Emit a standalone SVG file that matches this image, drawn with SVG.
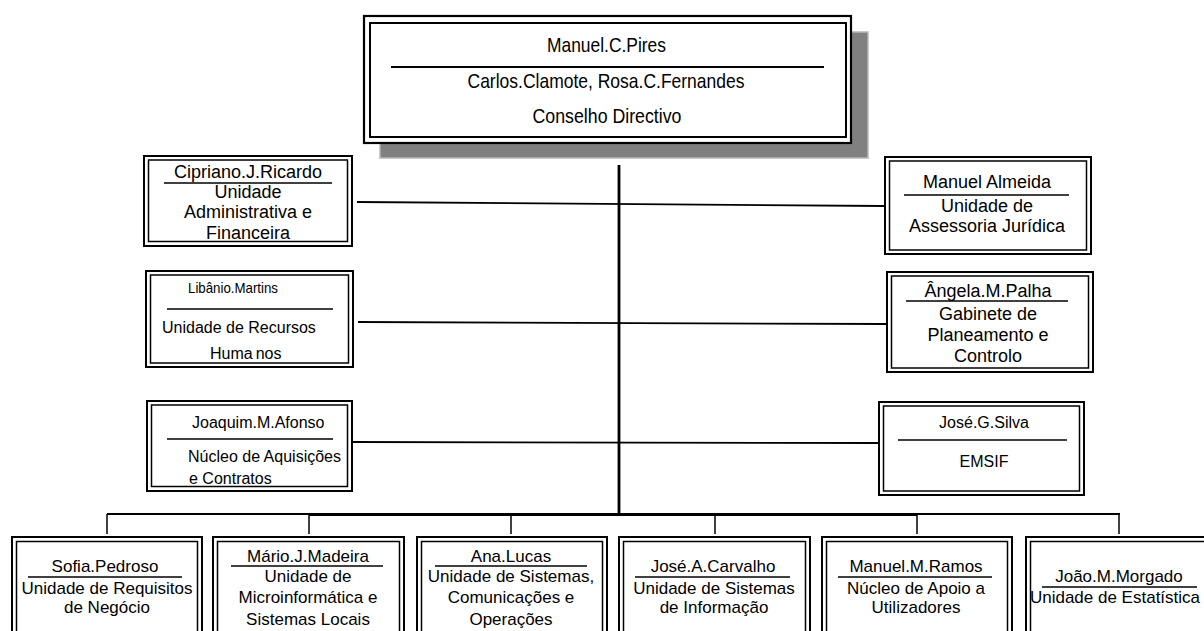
<svg xmlns="http://www.w3.org/2000/svg" width="1204" height="631" viewBox="0 0 1204 631">
<style>
.o{fill:#fff;stroke:#000;stroke-width:2}
.i{fill:none;stroke:#000;stroke-width:1.5}
.t{font-family:"Liberation Sans",Arial,sans-serif;fill:#000;text-anchor:middle}
.s{font-family:"Liberation Sans",Arial,sans-serif;fill:#000;text-anchor:start}
.n{font-family:"Liberation Sans",Arial,sans-serif;fill:#000;text-anchor:middle;font-size:21px}
.sep{stroke:#000;stroke-width:1.6}
.c{stroke:#000;stroke-width:1.5;fill:none}
</style>
<g id="connectors">
<line class="c" x1="619" y1="165" x2="619" y2="515" style="stroke-width:2.8"/>
<line class="c" x1="107" y1="514" x2="1120" y2="514" style="stroke-width:1.8"/>
<line class="c" x1="309" y1="515.5" x2="917" y2="515.5" style="stroke-width:1.2"/>
<line class="c" x1="107" y1="514" x2="107" y2="534"/>
<line class="c" x1="309" y1="514" x2="309" y2="534"/>
<line class="c" x1="511" y1="514" x2="511" y2="534"/>
<line class="c" x1="715" y1="514" x2="715" y2="534"/>
<line class="c" x1="917" y1="514" x2="917" y2="534"/>
<line class="c" x1="1119" y1="514" x2="1119" y2="534"/>
<line class="c" x1="357" y1="202" x2="884" y2="206" style="stroke-width:1.8"/>
<line class="c" x1="358" y1="322" x2="886" y2="324" style="stroke-width:1.8"/>
<line class="c" x1="352" y1="442" x2="878" y2="443" style="stroke-width:1.8"/>
</g>
<g id="conselho">
<rect x="380" y="32" width="488" height="126" fill="#808080" stroke="#b8b8b8" stroke-width="1.5"/>
<rect class="o" x="364" y="16" width="487" height="127" style="stroke-width:2.2"/>
<rect class="i" x="370" y="23" width="476" height="114" style="stroke-width:2"/>
<text class="n" x="606.5" y="52" textLength="119" lengthAdjust="spacingAndGlyphs">Manuel.C.Pires</text>
<line class="sep" x1="391" y1="67" x2="824" y2="67" style="stroke-width:1.8"/>
<text class="n" x="606" y="88" textLength="277" lengthAdjust="spacingAndGlyphs">Carlos.Clamote, Rosa.C.Fernandes</text>
<text class="n" x="607" y="123" textLength="149" lengthAdjust="spacingAndGlyphs">Conselho Directivo</text>
</g>
<g id="uaf">
<rect class="o" x="144" y="156" width="208" height="90"/>
<rect class="i" x="148.5" y="160" width="199" height="81.5"/>
<text class="t" x="248" y="178" font-size="18">Cipriano.J.Ricardo</text>
<line class="sep" x1="164" y1="183" x2="332" y2="183"/>
<text class="t" x="248" y="198" font-size="18">Unidade</text>
<text class="t" x="248" y="218" font-size="18">Administrativa e</text>
<text class="t" x="248" y="239" font-size="18">Financeira</text>
</g>
<g id="urh">
<rect class="o" x="146" y="271" width="207" height="96"/>
<rect class="i" x="150.5" y="275" width="198" height="88"/>
<text class="s" x="188" y="293" font-size="15" textLength="90" lengthAdjust="spacingAndGlyphs">Libânio.Martins</text>
<line class="sep" x1="167" y1="309" x2="333" y2="309"/>
<text class="s" x="162" y="333" font-size="16">Unidade de Recursos</text>
<text class="s" x="210" y="359" font-size="16"><tspan>Huma</tspan><tspan dx="3">nos</tspan></text>
</g>
<g id="nac">
<rect class="o" x="147" y="401" width="205" height="90"/>
<rect class="i" x="151.5" y="405" width="196" height="81.5"/>
<text class="s" x="192" y="428" font-size="16">Joaquim.M.Afonso</text>
<line class="sep" x1="167" y1="439" x2="333" y2="439"/>
<text class="s" x="188" y="462" font-size="16">Núcleo de  Aquisições</text>
<text class="s" x="189" y="484" font-size="16">e Contratos</text>
</g>
<g id="uaj">
<rect class="o" x="885" y="157" width="206" height="97"/>
<rect class="i" x="889.5" y="161" width="197" height="89"/>
<text class="t" x="987" y="188" font-size="18">Manuel Almeida</text>
<line class="sep" x1="904" y1="195" x2="1069" y2="195"/>
<text class="t" x="987" y="212" font-size="18">Unidade de</text>
<text class="t" x="987" y="232" font-size="18">Assessoria Jurídica</text>
</g>
<g id="gpc">
<rect class="o" x="887" y="272" width="206" height="100"/>
<rect class="i" x="891.5" y="276" width="197" height="92"/>
<text class="t" x="988" y="297" font-size="18">Ângela.M.Palha</text>
<line class="sep" x1="906" y1="301" x2="1068" y2="301"/>
<text class="t" x="988" y="320" font-size="18">Gabinete de</text>
<text class="t" x="988" y="341" font-size="18">Planeamento e</text>
<text class="t" x="988" y="362" font-size="18">Controlo</text>
</g>
<g id="emsif">
<rect class="o" x="879" y="402" width="205" height="93"/>
<rect class="i" x="883.5" y="406" width="196" height="85"/>
<text class="t" x="984" y="428" font-size="16">José.G.Silva</text>
<line class="sep" x1="898" y1="440" x2="1067" y2="440"/>
<text class="t" x="984" y="467" font-size="16">EMSIF</text>
</g>
<g id="urn">
<rect class="o" x="12" y="537" width="190" height="100"/>
<rect class="i" x="16.5" y="541.5" width="181" height="95"/>
<text class="t" x="105" y="572" font-size="17">Sofia.Pedroso</text>
<line class="sep" x1="28" y1="577" x2="182" y2="577"/>
<text class="t" x="107" y="594" font-size="17">Unidade de Requisitos</text>
<text class="t" x="107" y="613" font-size="17">de Negócio</text>
</g>
<g id="umsl">
<rect class="o" x="213" y="537" width="191" height="100"/>
<rect class="i" x="217.5" y="541.5" width="182" height="95"/>
<text class="t" x="308" y="562" font-size="17">Mário.J.Madeira</text>
<line class="sep" x1="231" y1="566" x2="383" y2="566"/>
<text class="t" x="308" y="582" font-size="17">Unidade de</text>
<text class="t" x="308" y="603" font-size="17">Microinformática e</text>
<text class="t" x="308" y="625" font-size="17">Sistemas Locais</text>
</g>
<g id="usco">
<rect class="o" x="417" y="537" width="190" height="100"/>
<rect class="i" x="421.5" y="541.5" width="181" height="95"/>
<text class="t" x="511" y="562" font-size="17">Ana.Lucas</text>
<line class="sep" x1="435" y1="566" x2="587" y2="566"/>
<text class="t" x="511" y="582" font-size="17">Unidade de Sistemas,</text>
<text class="t" x="511" y="603" font-size="17">Comunicações e</text>
<text class="t" x="511" y="625" font-size="17">Operações</text>
</g>
<g id="usi">
<rect class="o" x="619" y="537" width="191" height="100"/>
<rect class="i" x="623.5" y="541.5" width="182" height="95"/>
<text class="t" x="713" y="572" font-size="17">José.A.Carvalho</text>
<line class="sep" x1="635" y1="577" x2="790" y2="577"/>
<text class="t" x="714" y="594" font-size="17">Unidade de Sistemas</text>
<text class="t" x="714" y="613" font-size="17">de Informação</text>
</g>
<g id="nau">
<rect class="o" x="822" y="537" width="190" height="100"/>
<rect class="i" x="826.5" y="541.5" width="181" height="95"/>
<text class="t" x="916" y="572" font-size="17">Manuel.M.Ramos</text>
<line class="sep" x1="838" y1="577" x2="992" y2="577"/>
<text class="t" x="916" y="594" font-size="17">Núcleo de Apoio a</text>
<text class="t" x="916" y="613" font-size="17">Utilizadores</text>
</g>
<g id="ue">
<rect class="o" x="1026" y="537" width="192" height="100"/>
<rect class="i" x="1030.5" y="541.5" width="183" height="95"/>
<text class="t" x="1119" y="582" font-size="17">João.M.Morgado</text>
<line class="sep" x1="1042" y1="587" x2="1197" y2="587"/>
<text class="t" x="1115" y="603" font-size="17">Unidade de Estatística</text>
</g>
</svg>
